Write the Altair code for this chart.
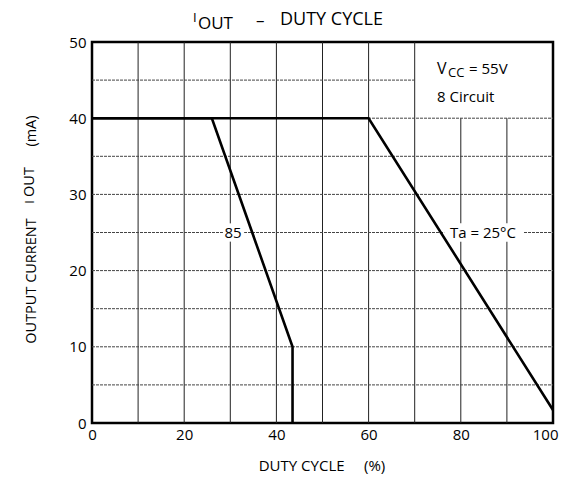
import altair as alt
import pandas as pd

# ---- data ----
ta25_x = [0, 60, 100]
ta25_y = [40, 40, 1.7]
ta85_x = [0, 26, 43.5, 43.5]
ta85_y = [40, 40, 10, 0]

x_ticks = [0, 20, 40, 60, 80, 100]
y_ticks = [0, 10, 20, 30, 40, 50]

vgrid_x = [10, 20, 30, 40, 50, 60, 70, 80, 90]
vgrid_top = [50, 50, 50, 50, 50, 50, 50, 40, 40]
hgrid_y = [5, 10, 15, 20, 25, 30, 35, 40, 45]
hgrid_right = [100, 100, 100, 100, 100, 100, 100, 100, 70]

labels_text = ["85", "Ta = 25°C"]
labels_x = [30.6, 84.8]
labels_y = [25, 25]

FONT = "Open Sans"
NB = "\u00a0"
W, H = 461, 381

xs = alt.Scale(domain=[0, 100], nice=False, zero=False)
ys = alt.Scale(domain=[0, 50], nice=False, zero=False)

curves = pd.DataFrame(
    {"x": ta25_x + ta85_x,
     "y": ta25_y + ta85_y,
     "s": ["25"] * len(ta25_x) + ["85"] * len(ta85_x),
     "o": list(range(len(ta25_x))) + list(range(len(ta85_x)))}
)
vg = pd.DataFrame({"x": vgrid_x, "y0": [0] * len(vgrid_x), "y1": vgrid_top})
hg = pd.DataFrame({"y": hgrid_y, "x0": [0] * len(hgrid_y), "x1": hgrid_right})
lab = pd.DataFrame({"t": labels_text, "x": labels_x, "y": labels_y,
                    "x0": [28.4, 76.4], "x1": [33.0, 93.6],
                    "y0": [23.8, 23.8], "y1": [26.2, 26.2]})

vgrid = alt.Chart(vg).mark_rule(color="#222", strokeWidth=1).encode(
    x=alt.X("x:Q", scale=xs), y=alt.Y("y0:Q", scale=ys), y2="y1:Q")
hgrid = alt.Chart(hg).mark_rule(color="#444", strokeWidth=1, strokeDash=[3, 1]).encode(
    y=alt.Y("y:Q", scale=ys), x=alt.X("x0:Q", scale=xs), x2="x1:Q")

bg = alt.Chart(lab).mark_rect(fill="white").encode(
    x=alt.X("x0:Q", scale=xs), x2="x1:Q", y=alt.Y("y0:Q", scale=ys), y2="y1:Q")

lines = alt.Chart(curves).mark_line(color="black", strokeWidth=2.6).encode(
    x=alt.X("x:Q", scale=xs,
            axis=alt.Axis(values=x_ticks, grid=False, ticks=False, domain=False,
                          labelFontSize=15, labelFont=FONT, labelColor="black",
                          labelPadding=4, labelFlush=False,
                          labelAlign={"condition": {"test": "datum.value == 100", "value": "right"},
                                      "value": "center"},
                          labelOffset={"condition": {"test": "datum.value == 100", "value": 5},
                                       "value": 0},
                          title=None)),
    y=alt.Y("y:Q", scale=ys,
            axis=alt.Axis(values=y_ticks, grid=False, ticks=False, domain=False,
                          labelFontSize=15, labelFont=FONT, labelColor="black",
                          labelPadding=6, labelFlush=False, title=None)),
    detail="s:N", order="o:Q")

curve_labels = alt.Chart(lab).mark_text(font=FONT, fontSize=15, color="black").encode(
    x=alt.X("x:Q", scale=xs), y=alt.Y("y:Q", scale=ys), text="t:N")

one = pd.DataFrame({"a": [0]})


def txt(t, x, y, size=14, angle=0, align="left", baseline="middle"):
    return alt.Chart(one).mark_text(
        text=t, font=FONT, fontSize=size, color="black", angle=angle,
        align=align, baseline=baseline
    ).encode(x=alt.value(x), y=alt.value(y))


# plot origin is at page (92, 42)
annotations = [
    # title
    txt("I", 101, -24, size=13),
    txt("OUT", 106, -18, size=17),
    txt("–", 164, -21, size=17),
    txt("DUTY" + NB + "CYCLE", 188, -22, size=18),
    # Vcc box
    txt("V", 345, 27, size=16),
    txt("CC", 356, 31, size=13),
    txt("=" + NB + "55V", 377, 27, size=15),
    txt("8" + NB + "Circuit", 345, 55, size=15),
    # x title
    txt("DUTY" + NB + "CYCLE" + NB * 5 + "(%)", 230, 424, size=15, align="center"),
    # y title (rotated)
    txt("OUTPUT" + NB + "CURRENT", -60, 239, size=14.5, angle=270, align="center"),
    txt("I", -62, 160, size=12, angle=270, align="center"),
    txt("OUT", -62, 140, size=14.5, angle=270, align="center"),
    txt("(mA)", -60, 89, size=14.5, angle=270, align="center"),
]

chart = alt.layer(vgrid, hgrid, bg, lines, curve_labels, *annotations).properties(
    width=W, height=H,
    autosize=alt.AutoSizeParams(type="none"),
    padding={"left": 84, "top": 34, "right": 6, "bottom": 60},
).configure_view(stroke="black", strokeWidth=2.5)

chart.save("out.html", embed_options={"renderer": "svg", "actions": False})
